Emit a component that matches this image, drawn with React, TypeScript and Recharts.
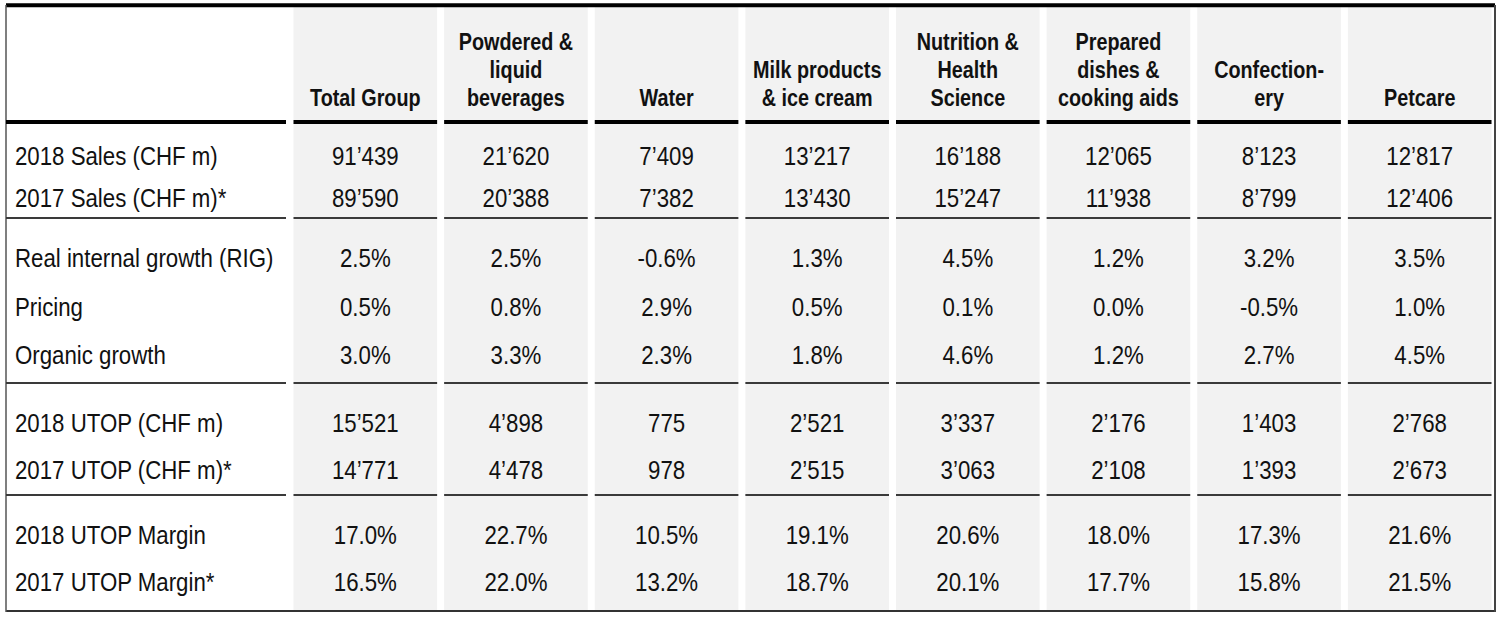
import React from "react";
import { ScatterChart, Scatter, XAxis, YAxis, ReferenceArea, ReferenceLine } from "recharts";

// ---------- data ----------
const categories: string[][] = [
  ["Total Group"],
  ["Powdered &", "liquid", "beverages"],
  ["Water"],
  ["Milk products", "& ice cream"],
  ["Nutrition &", "Health", "Science"],
  ["Prepared", "dishes &", "cooking aids"],
  ["Confection-", "ery"],
  ["Petcare"],
];

const rowLabels = [
  "2018 Sales (CHF m)",
  "2017 Sales (CHF m)*",
  "Real internal growth (RIG)",
  "Pricing",
  "Organic growth",
  "2018 UTOP (CHF m)",
  "2017 UTOP (CHF m)*",
  "2018 UTOP Margin",
  "2017 UTOP Margin*",
];

const sales2018 = [91439, 21620, 7409, 13217, 16188, 12065, 8123, 12817];
const sales2017 = [89590, 20388, 7382, 13430, 15247, 11938, 8799, 12406];
const rig = [2.5, 2.5, -0.6, 1.3, 4.5, 1.2, 3.2, 3.5];
const pricing = [0.5, 0.8, 2.9, 0.5, 0.1, 0.0, -0.5, 1.0];
const organicGrowth = [3.0, 3.3, 2.3, 1.8, 4.6, 1.2, 2.7, 4.5];
const utop2018 = [15521, 4898, 775, 2521, 3337, 2176, 1403, 2768];
const utop2017 = [14771, 4478, 978, 2515, 3063, 2108, 1393, 2673];
const margin2018 = [17.0, 22.7, 10.5, 19.1, 20.6, 18.0, 17.3, 21.6];
const margin2017 = [16.5, 22.0, 13.2, 18.7, 20.1, 17.7, 15.8, 21.5];

// ---------- layout ----------
const W = 1504;
const H = 619;
const COL_PX = 150.625;
const LABEL_W = 284 / COL_PX; // label column width in column units
const INSET = 3.5 / COL_PX;
const ROW_Y = [155.8, 197.5, 258, 306.5, 355, 423.3, 470, 534.5, 582.2];
const HEADER_BASE = 106;
const HEADER_STEP = 28;
const GROUP_LINES = [218, 383, 495];
const FONT = "'Liberation Sans', Arial, sans-serif";

const fmtInt = (n: number) =>
  n >= 1000 ? `${Math.floor(n / 1000)}’${String(n % 1000).padStart(3, "0")}` : String(n);
const fmtPct = (n: number) => `${n.toFixed(1)}%`;

const rows: { values: number[]; fmt: (n: number) => string }[] = [
  { values: sales2018, fmt: fmtInt },
  { values: sales2017, fmt: fmtInt },
  { values: rig, fmt: fmtPct },
  { values: pricing, fmt: fmtPct },
  { values: organicGrowth, fmt: fmtPct },
  { values: utop2018, fmt: fmtInt },
  { values: utop2017, fmt: fmtInt },
  { values: margin2018, fmt: fmtPct },
  { values: margin2017, fmt: fmtPct },
];

type Cell = { x: number; y: number; kind: "header" | "label" | "value"; lines: string[] };

const cells: Cell[] = [];
categories.forEach((lines, c) => cells.push({ x: c + 0.5, y: HEADER_BASE, kind: "header", lines }));
rowLabels.forEach((label, r) =>
  cells.push({ x: -LABEL_W + 9 / COL_PX, y: ROW_Y[r], kind: "label", lines: [label] })
);
rows.forEach((row, r) =>
  row.values.forEach((v, c) => cells.push({ x: c + 0.5, y: ROW_Y[r], kind: "value", lines: [row.fmt(v)] }))
);

const CellShape = (props: any) => {
  const { cx, cy, payload } = props;
  if (cx == null || cy == null) return null;
  const p = payload as Cell;
  if (p.kind === "header") {
    const n = p.lines.length;
    return (
      <g>
        {p.lines.map((ln, k) => (
          <text
            key={k}
            transform={`translate(${cx},${cy - (n - 1 - k) * HEADER_STEP}) scale(0.86,1)`}
            x={0}
            y={0}
            textAnchor="middle"
            fontFamily={FONT}
            fontWeight="bold"
            fontSize={23}
            fill="#111"
          >
            {ln}
          </text>
        ))}
      </g>
    );
  }
  return (
    <text
      transform={`translate(${cx},${cy + 9}) scale(0.89,1)`}
      x={0}
      y={0}
      textAnchor={p.kind === "label" ? "start" : "middle"}
      fontFamily={FONT}
      fontSize={25}
      fill="#111"
    >
      {p.lines[0]}
    </text>
  );
};

const colSegments = (y: number, color: string, width: number, keyPrefix: string) => {
  const out = [
    <ReferenceLine
      key={`${keyPrefix}-label`}
      segment={[
        { x: -LABEL_W, y },
        { x: -4 / COL_PX, y },
      ]}
      stroke={color}
      strokeWidth={width}
      ifOverflow="visible"
    />,
  ];
  categories.forEach((_, i) =>
    out.push(
      <ReferenceLine
        key={`${keyPrefix}-${i}`}
        segment={[
          { x: i + INSET, y },
          { x: i + 1 - INSET, y },
        ]}
        stroke={color}
        strokeWidth={width}
        ifOverflow="visible"
      />
    )
  );
  return out;
};

export default function App() {
  return (
    <div style={{ position: "absolute", left: 0, top: 0, width: W, height: H, background: "#fff" }}>
      <ScatterChart width={W} height={H} margin={{ top: 0, right: 9, bottom: 0, left: 6 }}>
        <XAxis type="number" dataKey="x" domain={[-LABEL_W, 8]} hide allowDataOverflow />
        <YAxis type="number" dataKey="y" domain={[0, H]} reversed hide allowDataOverflow />
        {categories.map((_, i) => (
          <ReferenceArea
            key={`bg-${i}`}
            x1={i + INSET}
            x2={i + 1 - INSET}
            y1={7}
            y2={610}
            fill="#f2f2f2"
            fillOpacity={1}
            stroke="none"
            ifOverflow="visible"
          />
        ))}
        <ReferenceLine
          segment={[
            { x: -LABEL_W, y: 5.3 },
            { x: 8, y: 5.3 },
          ]}
          stroke="#000"
          strokeWidth={4}
          ifOverflow="visible"
        />
        <ReferenceLine
          segment={[
            { x: -LABEL_W, y: 611 },
            { x: 8, y: 611 },
          ]}
          stroke="#333"
          strokeWidth={2}
          ifOverflow="visible"
        />
        <ReferenceLine
          segment={[
            { x: -LABEL_W, y: 5 },
            { x: -LABEL_W, y: 612 },
          ]}
          stroke="#555"
          strokeWidth={1.5}
          ifOverflow="visible"
        />
        <ReferenceLine
          segment={[
            { x: 8, y: 5 },
            { x: 8, y: 612 },
          ]}
          stroke="#444"
          strokeWidth={2}
          ifOverflow="visible"
        />
        {colSegments(122, "#000", 4, "hdr")}
        {GROUP_LINES.flatMap((y, g) => colSegments(y, "#3a3a3a", 2, `grp${g}`))}
        <Scatter data={cells} shape={CellShape} isAnimationActive={false} />
      </ScatterChart>
    </div>
  );
}
